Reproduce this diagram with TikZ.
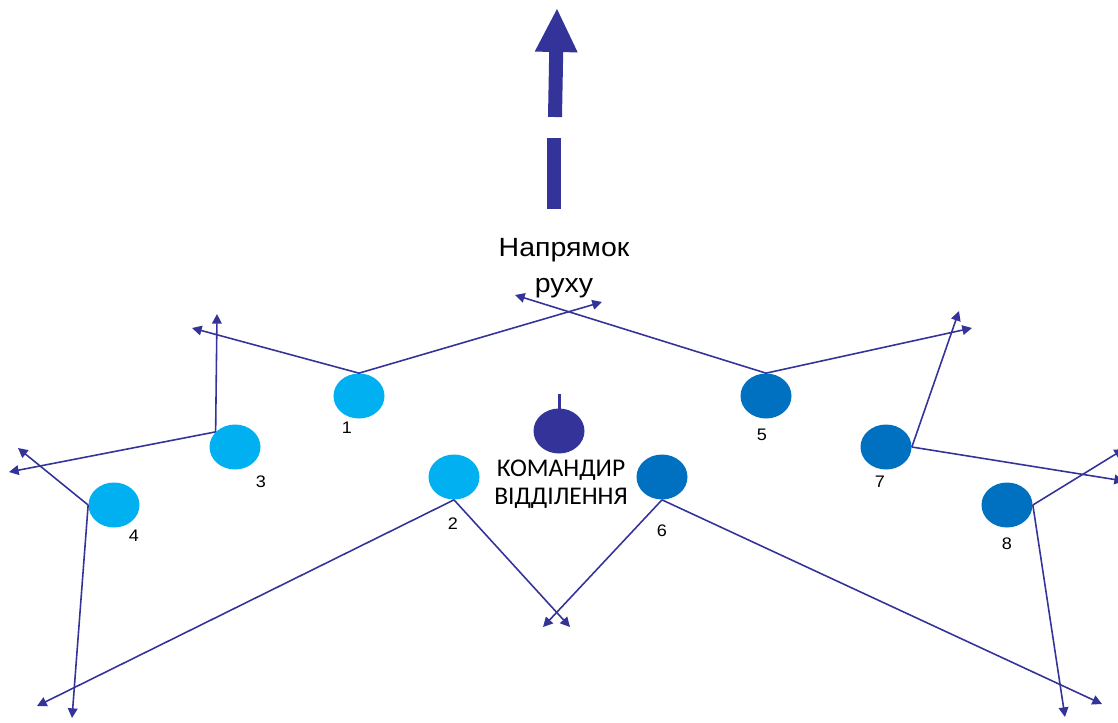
\documentclass[tikz,border=0pt]{standalone}
\usepackage{fontspec}
\newfontfamily\arialfont[FakeStretch=1.08]{Liberation Sans}
\newfontfamily\calfont{Carlito}
\usetikzlibrary{arrows.meta,calc,shapes.geometric}
\usepackage{tkz-euclide}
\definecolor{ArrowClr}{HTML}{333399}
\definecolor{LightClr}{HTML}{00B0F0}
\definecolor{DarkClr}{HTML}{0070C0}

\begin{document}
\begin{tikzpicture}[x=.2mm,y=-.2mm,
  soldier/.style={ellipse,minimum width=1.02cm,minimum height=.9cm,inner sep=0pt},
  move/.style={ArrowClr,line width=.9pt,-{Triangle[length=5.5pt,width=5.5pt]}},
  big/.style={ArrowClr,line width=.28cm},
  num/.style={font=\arialfont\fontsize{9.5}{10}\selectfont,inner sep=0pt}]
\useasboundingbox (0,0) rectangle (1118,722);
\clip (0,0) rectangle (1118,722);

\tkzDefPoints{554/209/D1,554/138/D2,555/117/D3,557/9/D4}
\tkzDefPoints{192/328/P1,602/302/Q1,37/706/P2,570/627/Q2}
\tkzDefPoints{217/314/P3,9/472/P4,18/448/Q4,72/718/R4}
\tkzDefPoints{515/295/P5,972/328/Q5,543/627/P6,1102/704/Q6}
\tkzDefPoints{959/311/P7,1124/481/Q7,1124/449/P8,1065/717/Q8}

\draw[big] (D1) -- (D2);
\draw[big,-{Triangle[length=.86cm,width=.86cm,line width=0pt]}] (D3) -- (D4);

\node[soldier,fill=LightClr] (s1) at (359,396) {};
\node[soldier,fill=LightClr] (s2) at (454,477) {};
\node[soldier,fill=LightClr] (s3) at (235,447) {};
\node[soldier,fill=LightClr] (s4) at (114,505) {};
\node[soldier,fill=DarkClr] (s5) at (766,396) {};
\node[soldier,fill=DarkClr] (s6) at (662,477) {};
\node[soldier,fill=DarkClr] (s7) at (886,447) {};
\node[soldier,fill=DarkClr] (s8) at (1007,505) {};
\node[soldier,fill=ArrowClr] (cmd) at (559,431) {};
\draw[ArrowClr,line width=.06cm] ([yshift=-6pt]cmd.north) -- ++(0,-25);

\draw[move] (s1.north) -- (P1);
\draw[move] (s1.north) -- (Q1);
\draw[move] (s2.south) -- (P2);
\draw[move] (s2.south) -- (Q2);
\draw[move] (s3.142) -- (P3);
\draw[move] (s3.142) -- (P4);
\draw[move] (s4.west) -- (Q4);
\draw[move] (s4.west) -- (R4);
\draw[move] (s5.north) -- (P5);
\draw[move] (s5.north) -- (Q5);
\draw[move] (s6.south) -- (P6);
\draw[move] (s6.south) -- (Q6);
\draw[move] (s7.east) -- (P7);
\draw[move] (s7.east) -- (Q7);
\draw[move] (s8.east) -- (P8);
\draw[move] (s8.east) -- (Q8);

\node[num] (n1) at (347,428) {1};
\node[num] (n2) at (453,524) {2};
\node[num] (n3) at (261,482) {3};
\node[num] (n4) at (134,536) {4};
\node[num] (n5) at (762,435) {5};
\node[num] (n6) at (662,531) {6};
\node[num] (n7) at (880,482) {7};
\node[num] (n8) at (1007,544) {8};

\node[font=\arialfont\fontsize{15}{20.4}\selectfont,align=center] (dir) at (564,268) {Напрямок\\руху};
\node[font=\calfont\fontsize{14.5}{15.9}\selectfont,align=center,inner sep=0pt] (cmdlbl) at (561,484) {КОМАНДИР\\ВІДДІЛЕННЯ};

\end{tikzpicture}
\end{document}
